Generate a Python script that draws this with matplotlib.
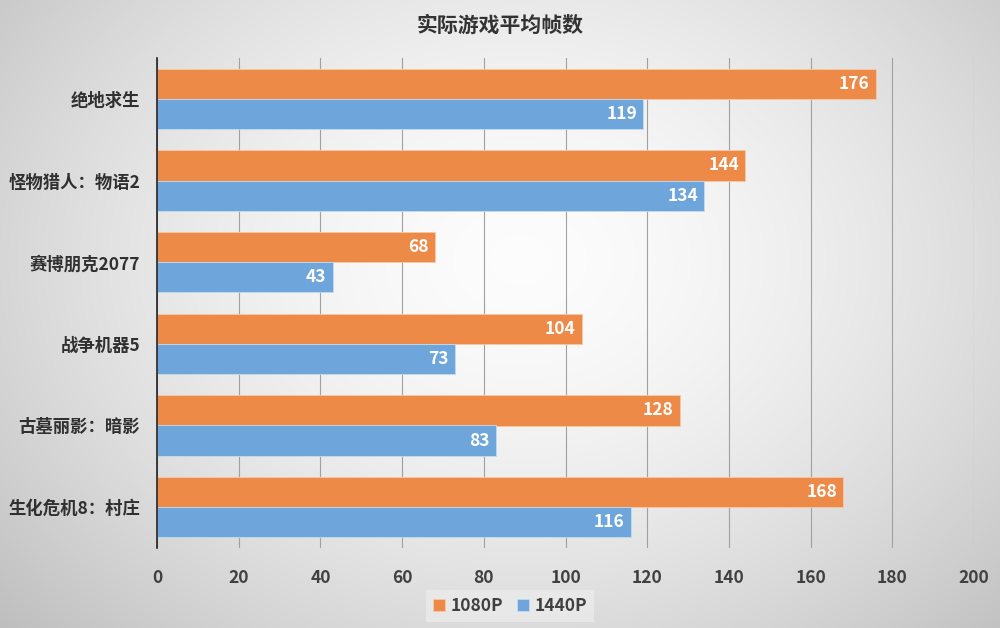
import numpy as np
import matplotlib
matplotlib.use("Agg")
import matplotlib.pyplot as plt

plt.rcParams['font.family'] = ['Noto Sans CJK SC', 'DejaVu Sans']

categories = ["绝地求生", "怪物猎人：物语2", "赛博朋克2077", "战争机器5", "古墓丽影：暗影", "生化危机8：村庄"]
fps_1080p = [176, 144, 68, 104, 128, 168]
fps_1440p = [119, 134, 43, 73, 83, 116]
series_names = ["1080P", "1440P"]
xticks = [0, 20, 40, 60, 80, 100, 120, 140, 160, 180, 200]

c_orange = "#ED8A47"
c_blue = "#6EA5DA"

fig = plt.figure(figsize=(10, 6.28), dpi=100)

# radial gradient background
bg = fig.add_axes([0, 0, 1, 1], zorder=-10)
yy, xx = np.mgrid[0:628, 0:1000]
r = np.sqrt(((xx - 520) / 620.0) ** 2 + ((yy - 260) / 480.0) ** 2)
val = 0.99 - 0.20 * np.clip(r, 0, 1.2) ** 1.6
bg.imshow(np.dstack([val, val, val]), extent=[0, 1, 0, 1], aspect='auto', origin='upper')
bg.axis('off')

ax = fig.add_axes([0.157, 1 - 548 / 628, 0.817, 490 / 628])
ax.set_facecolor('none')

n = len(categories)
y = np.arange(n)
h = 0.37
ax.barh(y - h / 2, fps_1080p, height=h, color=c_orange, edgecolor='#f6c9a8', linewidth=0.6, label=series_names[0], zorder=3)
ax.barh(y + h / 2, fps_1440p, height=h, color=c_blue, edgecolor='#c4dbf2', linewidth=0.6, label=series_names[1], zorder=3)

for i in range(n):
    ax.text(fps_1080p[i] - 1.5, y[i] - h / 2, str(fps_1080p[i]), ha='right', va='center',
            color='white', fontsize=12.5, fontweight='bold', zorder=4)
    ax.text(fps_1440p[i] - 1.5, y[i] + h / 2, str(fps_1440p[i]), ha='right', va='center',
            color='white', fontsize=12.5, fontweight='bold', zorder=4)

ax.set_xlim(0, 200)
ax.set_ylim(n - 0.5, -0.5)
ax.set_xticks(xticks)
ax.set_xticklabels([str(t) for t in xticks], fontsize=12.5, fontweight='bold', color='#404040')
ax.set_yticks(y)
ax.set_yticklabels(categories, fontsize=12.5, fontweight='bold', color='#303030')
ax.tick_params(axis='both', length=0)
ax.tick_params(axis='x', pad=15)
ax.tick_params(axis='y', pad=12)
ax.grid(axis='x', color='#a0a0a0', linewidth=0.8, zorder=0)
for s in ['top', 'right', 'bottom']:
    ax.spines[s].set_visible(False)
ax.spines['left'].set_color('#222222')
ax.spines['left'].set_linewidth(1.2)
ax.spines['left'].set_zorder(5)

fig.text(0.5, 1 - 25 / 628, "实际游戏平均帧数", ha='center', va='center', fontsize=15,
         fontweight='bold', color='#333333')

leg = fig.legend(loc='center', bbox_to_anchor=(0.51, 1 - 606 / 628), ncol=2, frameon=True,
                 fontsize=12.5, handlelength=0.7, handleheight=0.7, handletextpad=0.3,
                 columnspacing=0.8, borderpad=0.4, fancybox=False)
leg.get_frame().set_facecolor('#ebebeb')
leg.get_frame().set_edgecolor('none')
for t in leg.get_texts():
    t.set_fontweight('bold')
    t.set_color('#404040')

fig.savefig("out.png", dpi=100)
